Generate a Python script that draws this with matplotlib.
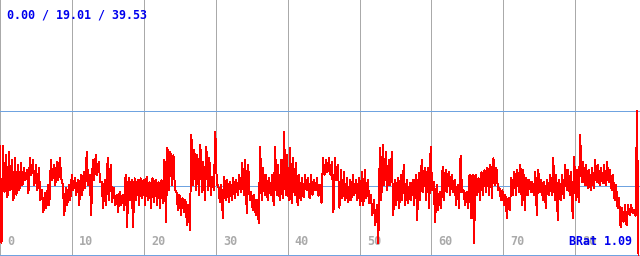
import numpy as np
import matplotlib
matplotlib.use('Agg')
import matplotlib.pyplot as plt

# upper / lower envelope of the signal, one pair per ~3 px column
peak_hi = [29.9, 29.9, 27.4, 28.3, 26.1, 26.6, 24.7, 25.3, 23.9, 23.3, 26.6, 26.1,
           24.7, 23.9, 17.8, 17.0, 19.2, 26.1, 24.7, 25.5, 26.6, 19.2, 18.4, 19.2,
           22.0, 21.1, 20.6, 22.0, 22.8, 28.3, 22.0, 26.1, 27.4, 25.5, 20.0, 20.6,
           26.6, 24.7, 18.4, 16.5, 17.3, 16.5, 22.0, 21.1, 20.6, 21.1, 20.6, 21.1,
           20.6, 21.4, 20.0, 21.1, 20.6, 20.0, 20.6, 26.1, 29.4, 28.3, 27.4, 17.3,
           16.5, 15.6, 15.1, 13.7, 32.9, 28.8, 27.4, 30.2, 25.5, 29.6, 26.6,
           21.4, 33.8, 19.2, 19.2, 21.4, 20.6, 20.0, 21.1, 20.6, 22.0, 25.3, 26.1,
           24.7, 17.3, 16.5, 15.1, 29.6, 23.9, 22.0, 21.1, 22.0, 29.6, 24.7, 26.1,
           33.8, 27.4, 29.4, 26.6, 25.3, 22.0, 21.1, 22.0, 21.1, 22.0, 20.6, 21.1,
           19.2, 26.6, 26.1, 26.6, 25.5, 26.6, 24.7, 23.3, 22.8, 21.1, 20.6, 22.0,
           20.6, 21.1, 22.8, 23.3, 20.6, 16.5, 15.1, 13.7, 29.4, 30.2, 28.3, 26.1,
           28.3, 20.6, 21.1, 22.0, 24.7, 20.6, 19.7, 20.6, 22.0, 22.5, 26.1, 23.9,
           23.9, 29.6, 20.0, 19.2, 17.3, 24.2, 23.3, 22.8, 22.0, 20.6, 19.2, 27.2,
           17.8, 17.3, 22.0, 22.0, 22.0, 21.1, 22.8, 23.3, 23.9, 24.7, 26.6, 23.9,
           18.4, 17.8, 16.5, 15.6, 21.1, 22.8, 23.3, 24.7, 23.3, 21.1, 20.6,
           20.0, 22.8, 23.3, 20.6, 20.0, 20.6, 22.0, 26.6, 22.0, 20.6, 22.0, 24.7,
           23.3, 22.8, 26.9, 23.3, 32.9, 25.5, 24.7, 23.3, 23.9, 26.1, 24.7, 23.9,
           24.7, 25.5, 23.3, 22.0, 19.2, 15.6, 12.9, 13.7, 13.7, 13.7, 12.4, 39.53]
peak_lo = [3.3, 17.3, 15.9, 17.8, 15.1, 16.5, 17.8, 19.2, 20.6, 17.0, 22.0, 19.2,
           17.8, 15.1, 11.8, 12.9, 13.7, 20.6, 19.2, 20.6, 21.1, 11.0, 13.7, 15.1,
           17.8, 16.5, 13.7, 16.5, 18.4, 19.2, 11.0, 20.6, 22.0, 20.0, 12.9, 13.7,
           15.1, 14.5, 13.7, 11.8, 13.7, 12.4, 7.7, 15.1, 7.7, 15.1, 13.7, 15.6,
           13.7, 15.1, 13.0, 14.5, 13.7, 13.0, 14.3, 9.1, 17.8, 19.2, 17.8, 12.4,
           11.0, 11.8, 8.2, 6.9, 19.2, 17.8, 16.5, 17.3, 15.1, 17.8, 16.5,
           17.8, 19.2, 14.5, 10.2, 15.1, 14.5, 15.1, 15.6, 16.5, 17.3, 16.5, 11.5,
           15.1, 12.4, 11.0, 8.8, 15.1, 16.5, 15.1, 16.5, 13.7, 16.5, 15.1, 15.6,
           16.5, 15.1, 14.3, 16.5, 13.7, 15.1, 15.9, 17.8, 15.6, 16.5, 17.8, 16.2,
           14.3, 22.0, 22.8, 22.0, 11.8, 20.6, 13.0, 15.6, 15.1, 14.5, 15.1, 16.5,
           15.1, 13.7, 13.7, 15.6, 14.3, 11.0, 8.2, 3.3, 15.1, 19.2, 17.8, 19.2,
           11.0, 13.7, 12.9, 15.1, 13.7, 14.3, 15.1, 13.7, 9.6, 15.1, 17.3, 15.1,
           12.9, 17.8, 9.1, 12.4, 12.9, 15.1, 17.3, 16.5, 17.3, 13.7, 12.9, 17.3,
           13.7, 12.9, 10.2, 3.3, 16.5, 15.1, 16.5, 17.3, 16.5, 15.6, 19.2, 17.8,
           15.1, 13.7, 10.2, 12.4, 16.5, 16.5, 17.3, 13.7, 12.4, 16.5, 17.3,
           16.5, 11.0, 17.3, 15.1, 12.9, 16.5, 16.5, 15.1, 9.6, 15.1, 15.6, 17.8,
           16.5, 10.2, 15.1, 14.5, 20.0, 19.2, 18.4, 17.8, 18.4, 20.0, 19.2, 19.7,
           19.2, 20.0, 17.8, 15.1, 12.9, 7.7, 9.1, 8.2, 11.0, 11.5, 10.8, 0.0]

stats = [0.00, 19.01, 39.53]          # min / avg / max
tick_vals = [0, 10, 20, 30, 40, 50, 60, 70, 80]
ratio_label = 'BRat 1.09'

signal = np.ravel(np.column_stack([peak_hi, peak_lo]))
x = np.linspace(0, 638.5 / 7.19, len(signal))

fig = plt.figure(figsize=(6.4, 2.56), dpi=100)
ax = fig.add_axes([0, 0, 1, 1])
ax.set_xlim(0, 640 / 7.19)
ax.set_ylim(-1 / 3.643, 255 / 3.643)
ax.axis('off')

for t in tick_vals:
    ax.axvline(t, color='#aaaaaa', lw=0.72, antialiased=False, zorder=1)
    ax.text(t + 1.0, 3.7, str(t), color='#aaaaaa', fontsize=8.5, fontweight='bold',
            family='DejaVu Sans Mono', va='center', ha='left', zorder=2)
for s in stats:
    ax.axhline(s, color='#6fa3e0', lw=0.72, antialiased=False, zorder=1)

ax.plot(x, signal, color='#ff0000', lw=0.7, antialiased=False, zorder=3)

ax.text(0.011, 0.94, ' / '.join(f'{s:.2f}' for s in stats), transform=ax.transAxes,
        color='#0000ee', fontsize=8.4, fontweight='bold', family='DejaVu Sans Mono',
        va='center', ha='left', zorder=4)
ax.text(0.988, 3.7, ratio_label, transform=ax.get_yaxis_transform(), color='#0000ee',
        fontsize=8.4, fontweight='bold', family='DejaVu Sans Mono',
        va='center', ha='right', zorder=4)

fig.savefig('out.png', dpi=100, facecolor='white')
